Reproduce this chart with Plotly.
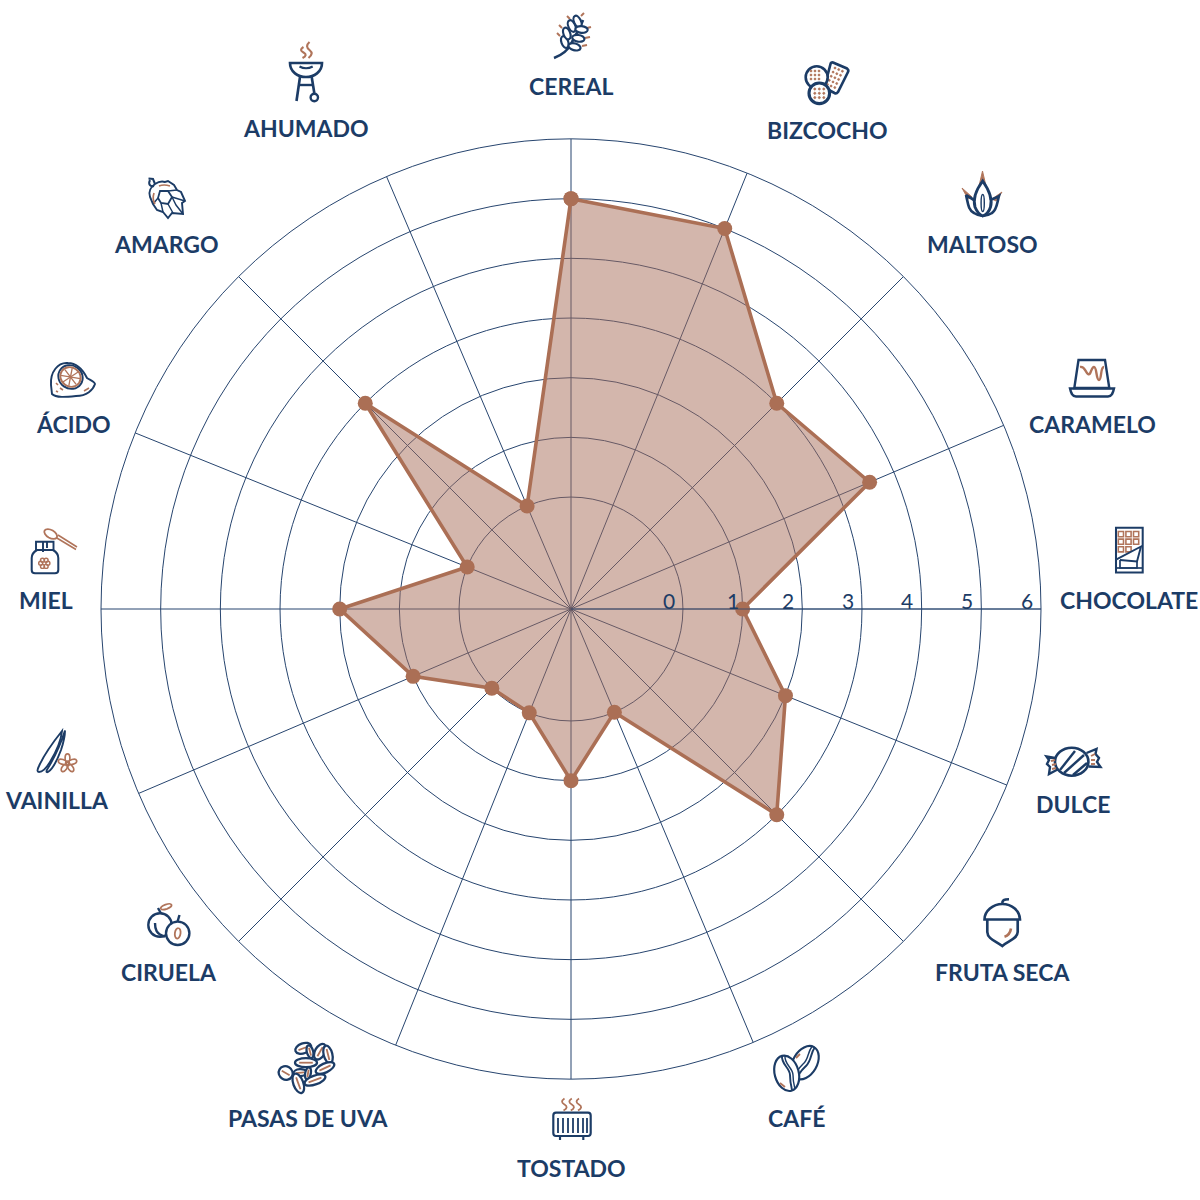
import math
import plotly.graph_objects as go

categories = ["CEREAL", "BIZCOCHO", "MALTOSO", "CARAMELO", "CHOCOLATE", "DULCE", "FRUTA SECA", "CAFÉ",
              "TOSTADO", "PASAS DE UVA", "CIRUELA", "VAINILLA", "MIEL", "ÁCIDO", "AMARGO", "AHUMADO"]
angles = [0, 22, 45, 67, 90, 112, 135, 157.2, 180, 201.9, 225, 246.9, 270, 292, 315, 336.9]
values = [5, 5, 3, 3.56, 1, 2, 3, 0, 1, 0, 0, 1, 2, 0, 3, 0]
tick_values = [0, 1, 2, 3, 4, 5, 6]
label_x = [571, 827, 982, 1092, 1129, 1073, 1002, 796, 571, 308, 169, 57, 46, 73, 166, 306]
label_y = [86, 130, 244, 424, 600, 804, 972, 1118, 1168, 1118, 972, 800, 600, 424, 244, 128]

NAVY = "#1c3c66"
COPPER = "#b0745a"
GRID = "#27456f"
LINE = "#ab6f55"
FILL = "rgba(167,109,89,0.5)"

shapes = []


def p(path, color=NAVY, w=2.0, fill=None):
    shapes.append(dict(type="path", path=path, xref="x", yref="y", layer="above",
                       line=dict(color=color, width=w * 1.2),
                       fillcolor=fill if fill else "rgba(0,0,0,0)"))


def ell(cx, cy, rx, ry, a=0, color=NAVY, w=2.0, fill=None):
    k = 0.5523
    pts = [(rx, 0), (rx, k * ry), (k * rx, ry), (0, ry), (-k * rx, ry), (-rx, k * ry), (-rx, 0),
           (-rx, -k * ry), (-k * rx, -ry), (0, -ry), (k * rx, -ry), (rx, -k * ry), (rx, 0)]
    c, s = math.cos(math.radians(a)), math.sin(math.radians(a))
    q = [(cx + x * c - y * s, cy + x * s + y * c) for x, y in pts]
    d = f"M{q[0][0]:.1f},{q[0][1]:.1f}"
    for i in range(1, 13, 3):
        d += " C" + " ".join(f"{x:.1f},{y:.1f}" for x, y in q[i:i + 3])
    p(d + " Z", color, w, fill)


def steam(x, y0, y1, color=COPPER, w=1.8):
    h = (y1 - y0) / 2
    p(f"M{x},{y0} C{x-3.5},{y0+h*.4} {x-3},{y0+h*.7} {x},{y0+h} C{x+3},{y0+h*1.3} {x+3},{y0+h*1.6} {x-1},{y1}", color, w)


def dots(points, size=1.0):
    for x, y in points:
        ell(x, y, size, size, color=COPPER, w=0.6, fill=COPPER)


# AHUMADO
p("M290,63 H322 C322,72 314,77 306,77 C298,77 290,72 290,63 Z", w=2.2)
p("M299.5,66.5 Q306,70 312.7,66.5", w=1.8)
p("M300,77 L296.5,101", w=2.2)
p("M311.7,77 L314.3,93", w=2.2)
p("M298.5,85 H313", w=2)
ell(314.3, 97.5, 3.7, 3.7, w=2)
steam(303.5, 47, 58)
steam(309.5, 42, 58)

# CEREAL
p("M554,58 C562,55 568,50 571,44 C575,36 580,28 583,20", w=2.2)
for x0, y0, x1, y1 in [(560, 36, 557, 33), (562, 28, 559, 25), (570, 19, 567, 16), (581, 16, 584, 13),
                       (582, 46, 587, 45), (585, 38, 590, 37), (587, 28, 591, 27)]:
    p(f"M{x0},{y0} L{x1},{y1}", COPPER, 1.6)
for cx, cy, a in [(564.8, 42, 70), (566.8, 33.5, 70), (571.8, 26, 65), (577.5, 21.5, 65),
                  (574.5, 46.8, 15), (578.3, 38.3, 10), (581.5, 29.5, 5)]:
    ell(cx, cy, 6.2, 3.4, a, w=1.8, fill="white")

# BIZCOCHO
p("M833,62.5 L847,68.5 Q849,70 848,72 L838,92 Q836.5,94 834.5,93 L826,88.5 Q824,87.5 825,85 L830.5,64 Q831,62 833,62.5 Z", w=2.2)
dots([(835 + 3.7 * i - 1.9 * j, 68 + 1.6 * i + 4.1 * j) for i in range(3) for j in range(5)], 1.0)
ell(816.7, 77.3, 11, 11, w=2.2, fill="white")
dots([(811 + 4 * i, 71 + 4 * j) for i in range(3) for j in range(3)], 1.0)
ell(819.3, 93.3, 10.3, 10.3, w=2.6, fill="white")
dots([(814.8 + 4.5 * i, 89 + 4.3 * j) for i in range(3) for j in range(3)], 1.1)

# MALTOSO
p("M982.5,171 L979,186 L986,186 Z", COPPER, 0.8, COPPER)
p("M962,188 L972,197 L968,199 Z", COPPER, 0.8, COPPER)
p("M1002,192 L992,199 L996,201 Z", COPPER, 0.8, COPPER)
p("M982.7,181 C976,190 973,200 975,207 C977,212 980,215 982.7,216 C985.5,215 989,212 990.5,207 C992.5,200 989,190 982.7,181 Z", w=2.4, fill="white")
p("M966,195 C968,203 968,210 974,213 C977,215 980,216 982.7,216 C985,216 989,215 992,213 C997,210 997,203 999,196 C996,198 992,199 990,200", w=2.2)
p("M966,195 C969,197 973,199 975,201", w=2.2)
ell(982.7, 203, 1.6, 8.5, w=1.2)

# CARAMELO
p("M1078.5,360 H1105 L1109.3,388 H1074.3 Z", w=2)
p("M1070,388.5 H1114 C1113,393 1112,396.5 1108,396.5 H1076 C1072,396.5 1071,393 1070,388.5 Z", w=2)
p("M1080,367 C1085,366 1085,372 1088,374 C1091,376 1091,367 1094,367 C1097,367 1096,380 1099,380 C1102,380 1100,367 1104,367", COPPER, 2)

# CHOCOLATE
for j in range(3):
    for i in range(3 if j < 2 else 2):
        x, y = 1118.3 + 7.6 * i, 531.5 + 7.6 * j
        p(f"M{x:.1f},{y:.1f} H{x+5.2:.1f} V{y+5.2:.1f} H{x:.1f} Z", COPPER, 1.3)
p("M1116,527.7 H1142.7 V572.5 H1116 Z", w=1.7)
p("M1116.5,559.3 L1141,546.5 L1137,561.5 L1120,560", w=1.6, fill="white")
p("M1120,560 V568 H1137 V561.5", w=1.4)
p("M1116,568 H1142.7", w=1.4)

# DULCE
p("M1055,758 L1046.5,756.5 L1049,760 L1047,764 L1050,767 L1049,774 L1057.5,769.5", w=2)
p("M1086.5,753 L1096.5,749 L1095.5,754 L1099,758 L1097,762 L1100.5,767 L1088.5,766.5", w=2)
ell(1071.7, 761.7, 16.7, 14, w=2.2, fill="white")
p("M1060,770 L1075,751", w=2)
p("M1064,773 L1084,755", w=2)
p("M1073,775 L1087,763", w=2)
for x0, y0, x1, y1 in [(1051, 761, 1055, 760), (1052, 765, 1056, 764), (1052, 769, 1056, 768),
                       (1091, 756, 1095, 754), (1091, 760, 1095, 760), (1091, 764, 1095, 764)]:
    p(f"M{x0},{y0} L{x1},{y1}", COPPER, 1.6)

# FRUTA SECA
p("M984.5,919.5 H1020 C1020,911 1012,904 1002.3,904 C993,904 984.5,911 984.5,919.5 Z", w=2.2)
p("M1002.3,904 C1002,900 1004,899.2 1009,899.2", w=2.2)
p("M987.3,920 V932 C987.5,939 996,941 1002.3,946 C1008,941 1017.5,939 1017.7,932 V920", w=2.2)
p("M1004.5,936.7 Q1010,935 1011,928.5", COPPER, 2.2)

# CAFÉ
ell(805, 1062.7, 12, 18, 30, w=1.8, fill="white")
p("M815,1047 C810,1054 812,1060 806,1066 C803,1069 799,1072 797,1079", w=1.6)
p("M812,1046.5 C807,1053 809,1059 803,1064 C800,1067 796,1071 795,1077", w=1.2)
ell(786.7, 1073.3, 12, 18, -15, w=1.8, fill="white")
p("M782,1056 C781,1064 790,1068 790,1075 C790,1082 791,1086 792,1090", w=1.6)
p("M785,1056 C784,1064 793,1068 793,1075 C793,1082 794,1085 795,1089", w=1.2)
p("M780,1083 L785,1087", COPPER, 1.5)
p("M796,1058 L800,1054", COPPER, 1.5)

# TOSTADO
p("M556,1112.7 H588 Q590.7,1112.7 590.7,1115.5 V1133 Q590.7,1136 588,1136 H556 Q553.3,1136 553.3,1133 V1115.5 Q553.3,1112.7 556,1112.7 Z", w=1.8)
p("M560,1136 V1140", w=1.8)
p("M583.3,1136 V1140", w=1.8)
for x in [558, 563, 568, 573, 578, 583, 587]:
    p(f"M{x},1118 V1133", w=1.5)
for x in [564.5, 571.8, 579]:
    steam(x, 1098.5, 1110.5, w=1.5)

# PASAS DE UVA
for cx, cy, rx, ry, a in [(303.3, 1048.3, 8.3, 5, -20), (310, 1051.7, 3.2, 6.5, -15), (320, 1051.7, 5, 8.5, 30),
                          (328, 1054.5, 4.3, 9, -15), (325, 1068, 10, 4.5, -25), (306, 1062.7, 11, 4.5, 0),
                          (300, 1072.7, 6.5, 3.5, -5), (308, 1073.3, 2.8, 6, 10), (285.7, 1073, 7.2, 6.6, 30),
                          (315, 1080, 11, 4.5, -20), (298.3, 1083.3, 5, 10.2, -20)]:
    ell(cx, cy, rx, ry, a, w=1.9, fill="white")
    t = math.radians(a if rx > ry else a + 90)
    l = max(rx, ry) * 0.62
    p(f"M{cx-l*math.cos(t):.1f},{cy-l*math.sin(t):.1f} L{cx+l*math.cos(t):.1f},{cy+l*math.sin(t):.1f}", COPPER, 1.5)

# CIRUELA
ell(160, 925, 11.7, 11.7, w=2)
p("M155,923 C155,929 156,934 165,936.7", w=2)
p("M158,908 L161,913.5", w=2)
ell(166.2, 906.7, 5.6, 2.2, -20, COPPER, 1.5)
ell(177.7, 933.3, 11.7, 11.7, w=2, fill="white")
p("M179.5,915 L177.5,921.7", w=2)
ell(177.7, 933.3, 2.8, 5.3, 8, COPPER, 1.5)

# MIEL
p("M37,550 H53 Q58.3,553 58.3,558 V570 Q58.3,573.3 55,573.3 H35 Q31.7,573.3 31.7,570 V558 Q31.7,553 37,550 Z", w=1.7)
p("M36,550 V541.7 H53.5 V550", w=1.6)
p("M43,542 V552 M47,542 V548", w=1.6)
for i in range(6):
    t = math.radians(60 * i)
    ell(44.3 + 3.6 * math.cos(t), 563.3 + 3.6 * math.sin(t), 2, 2, color=COPPER, w=1.2)
ell(50.7, 534, 7, 4, 30, COPPER, 1.5)
p("M56,537.5 L76,549.5 M58,535 L77,547", COPPER, 1.3)

# VAINILLA
p("M62,731 C54,741 44,755 39,766 C37,770 37,772 39,772 C43,772 47,767 50,762 C56,752 61,741 62,731 Z", w=1.6)
p("M65,730.5 C61,743 56,755 48,768 C46,771 46,773 48,772 C53,769 58,758 61,750 C63,744 65,737 65,730.5 Z", w=1.6)
for i in range(5):
    t = math.radians(-90 + 72 * i)
    ell(67.5 + 5.4 * math.cos(t), 763.5 + 5.4 * math.sin(t), 4.2, 2.4, -90 + 72 * i, COPPER, 1.4, "white")
ell(67.5, 763.5, 2, 2.5, color=COPPER, w=1.2)

# ÁCIDO
p("M51,385 C50,372 58,362 68,363 C78,363 84,372 87,378 C90,380 94,381 95,384 C93,390 87,396 76,396 C66,397 56,398 52,394 Z", w=1.6)
ell(70.5, 377, 12.5, 11.5, 35, w=1.6, fill="white")
ell(70.5, 377, 10.5, 9.5, 35, COPPER, 1.6)
for i in range(4):
    t = math.radians(45 * i + 10)
    dx, dy = 9.8 * math.cos(t), 9 * math.sin(t)
    p(f"M{70.5-dx:.1f},{377-dy:.1f} L{70.5+dx:.1f},{377+dy:.1f}", COPPER, 1.1)
for x0, y0, x1, y1 in [(56, 383, 58, 385), (60, 388, 63, 390), (84, 391, 89, 388), (56, 391, 58, 392)]:
    p(f"M{x0},{y0} L{x1},{y1}", COPPER, 1.3)

# AMARGO
p("M148.5,178.5 L153,179 L155,184 M150,180 C148,184 150,187 154,186", w=1.7)
p("M155,184 C158,182 162,181 165,182 L168,181 L174,185 L177,190 L181,192 L185,201 L182,203 L183,214 L172,213 L168,218 L163,212 L157,210 L153,204 L150,197 C148,192 151,187 155,184 Z", w=1.6)
p("M160,191 L168,191 L172,197 L168,204 L161,203 L158,198 Z", w=1.5)
p("M168,191 L177,190 M172,197 L185,201 M168,204 L173,213 M161,203 L163,212 M172,197 L176,205 L183,214 M158,198 L153,204", w=1.2)
p("M159,186 Q164,184 170,186", COPPER, 1.4)
p("M154,193 Q152,199 155,204", COPPER, 1.4)

fig = go.Figure()
fig.add_trace(go.Scatter(x=[], y=[], xaxis="x", yaxis="y", showlegend=False, hoverinfo="skip"))

fig.add_trace(go.Scatterpolar(
    r=values + values[:1], theta=angles + angles[:1], thetaunit="degrees", mode="lines+markers", fill="toself",
    fillcolor=FILL, line=dict(color=LINE, width=3.6), marker=dict(color=LINE, size=15),
    showlegend=False, hoverinfo="skip"))

annotations = [dict(x=x, y=y, xref="x", yref="y", text=c, showarrow=False, xanchor="center", yanchor="middle",
                    font=dict(family="Lato", size=23, color=NAVY, weight=700))
               for c, x, y in zip(categories, label_x, label_y)]

# Tick numbers sit just left of each ring, on the horizontal spoke.
CENTRE_X, R0, STEP = 571, 112, 59.7
for v in tick_values:
    annotations.append(dict(x=CENTRE_X + R0 + v * STEP - (10 if v == 1 else 14.5), y=600.5, xref="x", yref="y",
                            text=str(v), showarrow=False, xanchor="center", yanchor="middle",
                            font=dict(family="Lato", size=21, color=NAVY, weight=400)))

fig.update_layout(
    width=1200, height=1200, margin=dict(l=0, r=0, t=0, b=0), paper_bgcolor="white", plot_bgcolor="white",
    showlegend=False, shapes=shapes, annotations=annotations,
    xaxis=dict(range=[0, 1200], domain=[0, 1], visible=False, fixedrange=True),
    yaxis=dict(range=[1200, 0], domain=[0, 1], visible=False, fixedrange=True),
    polar=dict(
        domain=dict(x=[101 / 1200, 1041 / 1200], y=[121 / 1200, 1061 / 1200]),
        bgcolor="rgba(0,0,0,0)",
        angularaxis=dict(thetaunit="degrees", direction="clockwise", rotation=90, tickmode="array", tickvals=angles,
                         showticklabels=False, ticks="", showgrid=True, gridcolor=GRID, gridwidth=0.8,
                         showline=True, linecolor=GRID, linewidth=1),
        radialaxis=dict(range=[-R0 / STEP, 6], tickvals=tick_values, showticklabels=False, ticks="", angle=0,
                        showgrid=True, gridcolor=GRID, gridwidth=0.8, showline=True, linecolor=GRID, linewidth=0.8),
    ),
)
fig.write_html("out.html", post_script="document.body.style.margin='0';", config={"displayModeBar": False})
